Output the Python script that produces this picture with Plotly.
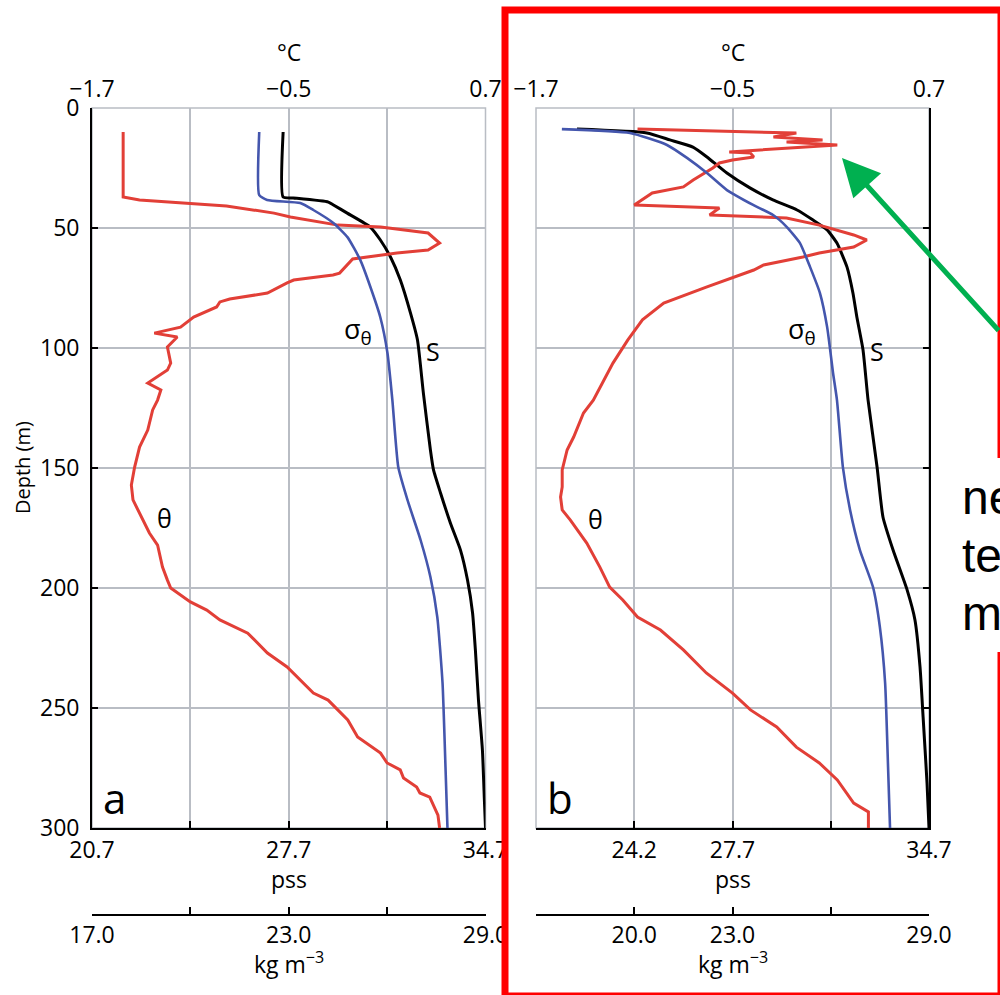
import plotly.graph_objects as go

W, H = 1000, 995

# ---------------- Profile a ----------------
depth_theta_a = [10.0, 37.1, 38.3, 40.8, 43.8, 45.4, 48.8, 49.6, 52.1, 56.3,
                 59.2, 60.4, 62.9, 65.0, 68.8, 69.6, 71.7, 72.9, 75.8, 77.1,
                 79.6, 80.8, 82.9, 87.1, 91.3, 93.8, 95.4, 99.6, 106.3, 109.2,
                 114.6, 117.5, 121.7, 125.8, 134.2, 141.3, 149.6, 157.1, 163.3, 171.7,
                 177.1, 182.1, 191.3, 196.7, 200.0, 205.8, 209.2, 213.3, 218.8, 227.1,
                 232.9, 243.8, 246.7, 255.0, 262.1, 268.8, 272.9, 275.8, 279.2, 282.9,
                 285.4, 287.1, 290.4, 294.6, 300.0]
theta_a = [-1.51, -1.51, -1.41, -0.88, -0.59, -0.49, -0.20, 0.06, 0.35, 0.42,
           0.35, 0.16, -0.11, -0.14, -0.19, -0.23, -0.47, -0.51, -0.59, -0.63,
           -0.86, -0.92, -0.94, -1.08, -1.16, -1.32, -1.18, -1.24, -1.22, -1.24,
           -1.36, -1.28, -1.30, -1.33, -1.36, -1.41, -1.44, -1.46, -1.45, -1.39,
           -1.35, -1.30, -1.27, -1.24, -1.22, -1.10, -1.00, -0.92, -0.75, -0.63,
           -0.51, -0.35, -0.26, -0.14, -0.08, 0.06, 0.10, 0.18, 0.20, 0.28,
           0.30, 0.36, 0.38, 0.41, 0.42]

depth_sal_a = [10.0, 37.1, 37.5, 39.2, 40.4, 43.8, 49.6, 55.0, 62.1, 71.7,
               85.4, 96.7, 118.8, 142.5, 150.8, 160.4, 172.9, 184.2, 196.7, 210.4,
               225.8, 246.7, 267.5, 288.3, 300.0]
sal_a = [27.50, 27.50, 27.86, 29.11, 29.29, 29.78, 30.60, 30.96, 31.32, 31.67,
         32.03, 32.28, 32.49, 32.74, 32.85, 33.10, 33.45, 33.81, 34.06, 34.24,
         34.34, 34.45, 34.59, 34.66, 34.70]

depth_sig_a = [10.0, 36.3, 38.3, 39.6, 42.5, 47.9, 53.8, 63.3, 74.6, 87.1,
               102.1, 121.7, 149.6, 163.3, 180.0, 195.4, 212.1, 239.6, 274.6, 300.0]
sig_a = [22.10, 22.10, 22.34, 23.35, 23.75, 24.36, 24.79, 25.18, 25.49, 25.79,
         26.01, 26.16, 26.34, 26.62, 27.02, 27.32, 27.53, 27.69, 27.78, 27.84]

# ---------------- Profile b ----------------
depth_theta_b = [8.8, 10.4, 12.1, 13.3, 14.2, 15.4, 18.3, 18.8, 20.4, 21.7,
                 22.9, 25.0, 30.0, 32.9, 35.4, 38.3, 40.4, 41.7, 44.6, 45.8,
                 48.8, 52.9, 55.0, 57.9, 60.4, 62.1, 65.4, 67.5, 74.6, 81.3,
                 88.3, 96.7, 106.3, 121.7, 127.1, 137.1, 142.5, 150.8, 157.9, 162.1,
                 167.5, 171.7, 181.3, 191.3, 199.6, 205.0, 212.1, 217.5, 225.8, 235.4,
                 243.8, 250.8, 257.9, 266.3, 272.9, 280.0, 289.6, 293.3, 300.0]
theta_b = [-1.08, -0.11, -0.25, 0.05, -0.17, 0.14, -0.52, -0.39, -0.37, -0.50,
           -0.58, -0.62, -0.74, -0.80, -0.99, -1.05, -1.10, -0.58, -0.64, -0.17,
           0.03, 0.24, 0.32, 0.24, 0.03, -0.07, -0.31, -0.37, -0.66, -0.92,
           -1.05, -1.14, -1.23, -1.35, -1.41, -1.47, -1.51, -1.54, -1.54, -1.55,
           -1.54, -1.49, -1.39, -1.31, -1.25, -1.17, -1.08, -0.94, -0.80, -0.66,
           -0.50, -0.39, -0.23, -0.11, 0.03, 0.14, 0.24, 0.33, 0.33]

depth_sal_b = [8.8, 10.4, 13.3, 16.3, 20.4, 27.1, 33.3, 38.3, 42.5, 46.7,
               50.8, 56.3, 66.3, 77.1, 87.1, 100.8, 121.7, 149.6, 170.4, 184.2,
               200.8, 213.3, 232.9, 253.8, 281.3, 300.0]
sal_b = [22.16, 24.65, 25.47, 26.29, 26.79, 27.50, 28.32, 29.14, 30.00, 30.57,
         31.07, 31.42, 31.78, 31.99, 32.13, 32.35, 32.53, 32.85, 33.06, 33.42,
         33.92, 34.20, 34.38, 34.49, 34.63, 34.70]

depth_sig_b = [8.8, 10.4, 15.4, 20.8, 27.1, 34.2, 40.4, 44.6, 49.6, 56.3,
               66.3, 77.1, 91.3, 110.4, 121.7, 149.6, 167.5, 184.2, 199.6, 216.3,
               239.6, 274.6, 300.0]
sig_b = [17.79, 19.87, 21.00, 21.61, 22.22, 22.83, 23.63, 24.24, 24.66, 25.06,
         25.37, 25.67, 25.89, 26.07, 26.19, 26.37, 26.59, 26.89, 27.29, 27.50,
         27.66, 27.75, 27.81]

# ---------------- Axes ----------------
temp_range = [-1.7, 0.7]
sal_range = [20.7, 34.7]
dens_range = [17.0, 29.0]
depth_range = [300, 0]

temp_ticks = [-1.7, -1.1, -0.5, 0.1, 0.7]
temp_labels = ["\u22121.7", "", "\u22120.5", "", "0.7"]
sal_ticks = [20.7, 24.2, 27.7, 31.2, 34.7]
sal_labels_a = ["20.7", "", "27.7", "", "34.7"]
sal_labels_b = ["", "24.2", "27.7", "", "34.7"]
dens_ticks = [17, 20, 23, 26, 29]
dens_labels_a = ["17.0", "", "23.0", "", "29.0"]
dens_labels_b = ["", "20.0", "23.0", "", "29.0"]
depth_ticks = [0, 50, 100, 150, 200, 250, 300]

note_lines = ["near-surface", "temperature", "maximum"]

RED = "#e23f37"
BLUE = "#4456ad"
BLACK = "#000000"
GRID = "#b9bdc4"
FONT = "Open Sans"
TICK_SIZE = 23


def px(x):
    return x / W


def py(y):
    return 1 - y / H


dom_a = [px(92), px(485.5)]
dom_b = [px(536), px(929)]
dom_y = [py(828), py(108)]
dens_pos = py(915)

fig = go.Figure()


def add_profile(sx, tx, dx, yax, d_t, t, d_s, s, d_g, g):
    fig.add_trace(go.Scatter(x=t, y=d_t, xaxis=tx, yaxis=yax, mode="lines",
                             line=dict(color=RED, width=3), showlegend=False))
    fig.add_trace(go.Scatter(x=g, y=d_g, xaxis=dx, yaxis=yax, mode="lines",
                             line=dict(color=BLUE, width=2.6, shape="spline", smoothing=0.5),
                             showlegend=False))
    fig.add_trace(go.Scatter(x=s, y=d_s, xaxis=sx, yaxis=yax, mode="lines",
                             line=dict(color=BLACK, width=3, shape="spline", smoothing=0.5),
                             showlegend=False))


add_profile("x", "x2", "x3", "y", depth_theta_a, theta_a, depth_sal_a, sal_a,
            depth_sig_a, sig_a)
add_profile("x4", "x5", "x6", "y2", depth_theta_b, theta_b, depth_sal_b, sal_b,
            depth_sig_b, sig_b)

tickfont = dict(family=FONT, size=TICK_SIZE, color="#000")


def sal_axis(domain, anchor, labels):
    return dict(domain=domain, anchor=anchor, range=sal_range, side="bottom",
                tickvals=sal_ticks, ticktext=labels, ticks="inside", ticklen=7,
                tickwidth=1.5, tickcolor=BLACK, showline=True, linecolor=BLACK,
                linewidth=1.8, showgrid=False, zeroline=False, tickfont=tickfont,
                ticklabelstandoff=0, automargin=False)


def temp_axis(over, anchor):
    return dict(overlaying=over, anchor=anchor, range=temp_range, side="top",
                tickvals=temp_ticks, ticktext=temp_labels, ticks="",
                showline=False, showgrid=True, gridcolor=GRID, gridwidth=1.5,
                zeroline=False, tickfont=tickfont, ticklabelstandoff=5,
                automargin=False)


def dens_axis(over, labels):
    return dict(overlaying=over, anchor="free", position=dens_pos, range=dens_range,
                side="bottom", tickvals=dens_ticks, ticktext=labels, ticks="inside",
                ticklen=7, tickwidth=1.5, tickcolor=BLACK, showline=True,
                linecolor=BLACK, linewidth=1.5, showgrid=False, zeroline=False,
                tickfont=tickfont, ticklabelstandoff=0, automargin=False)


def depth_axis(anchor, side, labels):
    return dict(domain=dom_y, anchor=anchor, range=depth_range, side=side,
                tickvals=depth_ticks, ticks="inside", ticklen=6, tickwidth=1.5,
                tickcolor=BLACK, showline=True, linecolor=BLACK, linewidth=1.8,
                showgrid=True, gridcolor=GRID, gridwidth=1.5, zeroline=False,
                showticklabels=labels, tickfont=tickfont, ticklabelstandoff=6,
                automargin=False)


shapes = []
# light frame around each panel (grey edges where there is no black axis line)
for d in (dom_a, dom_b):
    shapes.append(dict(type="rect", xref="paper", yref="paper", x0=d[0], x1=d[1],
                       y0=dom_y[0], y1=dom_y[1], line=dict(color=GRID, width=1.5),
                       layer="below"))
# red highlight box around panel b
shapes.append(dict(type="rect", xref="paper", yref="paper", x0=px(505), x1=px(1001),
                   y0=py(996), y1=py(10), line=dict(color="#ff0000", width=7),
                   layer="above"))
# white backing behind the side note
shapes.append(dict(type="rect", xref="paper", yref="paper", x0=px(945), x1=px(1010),
                   y0=py(652), y1=py(458), fillcolor="white",
                   line=dict(width=0), layer="above"))

ann = []


def text(x, y, s, size=TICK_SIZE, **kw):
    d = dict(x=px(x), y=py(y), xref="paper", yref="paper", text=s, showarrow=False,
             xanchor="center", yanchor="middle",
             font=dict(family=FONT, size=size, color="#000"))
    d.update(kw)
    ann.append(d)


for cx in (288.5, 732.5):
    text(cx, 52, "\u00b0C")
    text(cx, 879, "pss")
    text(cx, 963, "kg m<sup>\u22123</sup>")

text(22, 468, "Depth (m)", size=20, textangle=-90)

# curve labels
for off in (0, 444):
    text(358 + off, 330, "\u03c3<sub>\u03b8</sub>", size=27)
    text(433 + off, 351, "S", size=25)
text(164, 518, "\u03b8", size=25)
text(595, 519, "\u03b8", size=25)

text(114, 797, "a", size=42)
text(560, 797, "b", size=42)

# side note and pointer
for i, line in enumerate(note_lines):
    text(960, 497 + 58 * i, line, xanchor="left", align="left",
         font=dict(family="Liberation Sans Narrow, Liberation Sans", size=48,
                   color="#000"))
ann.append(dict(x=px(842), y=py(158), xref="paper", yref="paper", text="",
                showarrow=True, arrowhead=2, arrowsize=1.5, arrowwidth=5,
                arrowcolor="#00b050", ax=170, ay=174, standoff=0))

fig.update_layout(
    width=W, height=H,
    margin=dict(l=0, r=0, t=0, b=0, autoexpand=False),
    paper_bgcolor="white", plot_bgcolor="rgba(0,0,0,0)",
    showlegend=False,
    xaxis=sal_axis(dom_a, "y", sal_labels_a),
    xaxis2=temp_axis("x", "y"),
    xaxis3=dens_axis("x", dens_labels_a),
    xaxis4=sal_axis(dom_b, "y2", sal_labels_b),
    xaxis5=temp_axis("x4", "y2"),
    xaxis6=dens_axis("x4", dens_labels_b),
    yaxis=depth_axis("x", "left", True),
    yaxis2=depth_axis("x4", "right", False),
    shapes=shapes,
    annotations=ann,
)

fig.write_html("out.html")
